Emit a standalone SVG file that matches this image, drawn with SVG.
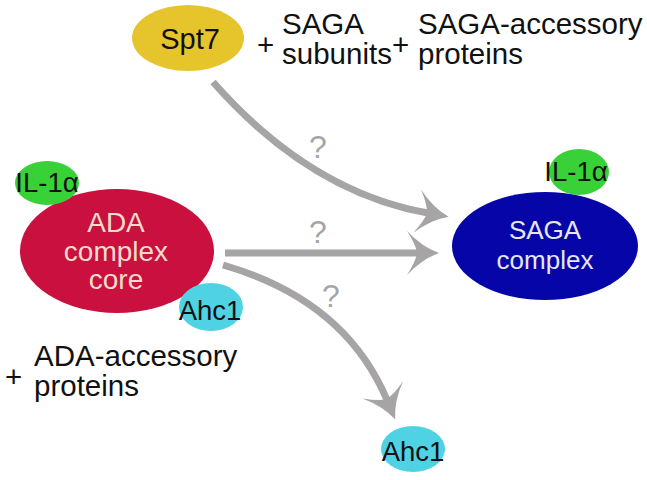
<svg xmlns="http://www.w3.org/2000/svg" width="647" height="480" viewBox="0 0 647 480">
<defs>
<style>
text{font-family:"Liberation Sans",Arial,sans-serif;}
.lbl{font-size:29.5px;fill:#111;}
.node{font-size:27.5px;fill:#111;text-anchor:middle;}
.inner{font-size:28px;text-anchor:middle;}
.q{font-size:32px;fill:#a6a4a4;text-anchor:middle;}
.conn{fill:none;stroke:#a6a4a4;stroke-width:7;}
</style>
<marker id="ah" viewBox="-14 -24 38 48" refX="0" refY="0" markerWidth="38" markerHeight="48" markerUnits="userSpaceOnUse" orient="auto">
<path d="M21 0 Q4 -6 -11 -22 Q-2 -8 -1 0 Q-2 8 -11 22 Q4 6 21 0 Z" fill="#a6a4a4"/>
</marker>
</defs>
<g id="connectors">
<path class="conn" d="M213 82 Q310 192 428 213" marker-end="url(#ah)"/>
<path class="conn" d="M225 253 L418 253" marker-end="url(#ah)"/>
<path class="conn" d="M223 265 Q345 300 387 400" marker-end="url(#ah)"/>
<text class="q" x="318" y="158">?</text>
<text class="q" x="318" y="243">?</text>
<text class="q" x="331" y="307">?</text>
</g>
<g id="spt7">
<ellipse cx="188" cy="38" rx="56" ry="33" fill="#e6c42c"/>
<text class="node" x="190" y="49" style="font-size:29px">Spt7</text>
</g>
<g id="saga-subunits">
<text class="lbl" x="257" y="55">+</text>
<text class="lbl" x="282" y="34">SAGA</text>
<text class="lbl" x="282" y="64">subunits</text>
</g>
<g id="saga-accessory">
<text class="lbl" x="392" y="55">+</text>
<text class="lbl" x="418" y="34">SAGA-accessory</text>
<text class="lbl" x="418" y="64">proteins</text>
</g>
<g id="ada">
<ellipse cx="117" cy="251" rx="97" ry="62" fill="#c9103f"/>
<text class="inner" x="116" y="232" fill="#f6dccb">ADA</text>
<text class="inner" x="116" y="261" fill="#f6dccb">complex</text>
<text class="inner" x="116" y="289" fill="#f6dccb">core</text>
</g>
<g id="il1a-left">
<ellipse cx="47" cy="183" rx="32" ry="22" fill="#38d238"/>
<text class="node" x="47" y="192">IL-1α</text>
</g>
<g id="ahc1-left">
<ellipse cx="211" cy="307" rx="32" ry="24" fill="#4fd2e4"/>
<text class="node" x="210" y="320">Ahc1</text>
</g>
<g id="ada-accessory">
<text class="lbl" x="5" y="387">+</text>
<text class="lbl" x="34" y="366">ADA-accessory</text>
<text class="lbl" x="34" y="396">proteins</text>
</g>
<g id="saga">
<ellipse cx="545" cy="246" rx="93" ry="54" fill="#0606a8"/>
<text class="inner" x="545" y="239" fill="#e6e6ee" style="font-size:26px">SAGA</text>
<text class="inner" x="545" y="269" fill="#e6e6ee" style="font-size:26px">complex</text>
</g>
<g id="il1a-right">
<ellipse cx="579" cy="172" rx="30" ry="23" fill="#38d238"/>
<text class="node" x="576" y="181">IL-1α</text>
</g>
<g id="ahc1-bottom">
<ellipse cx="413" cy="449" rx="32" ry="23" fill="#4fd2e4"/>
<text class="node" x="413" y="461">Ahc1</text>
</g>
</svg>
